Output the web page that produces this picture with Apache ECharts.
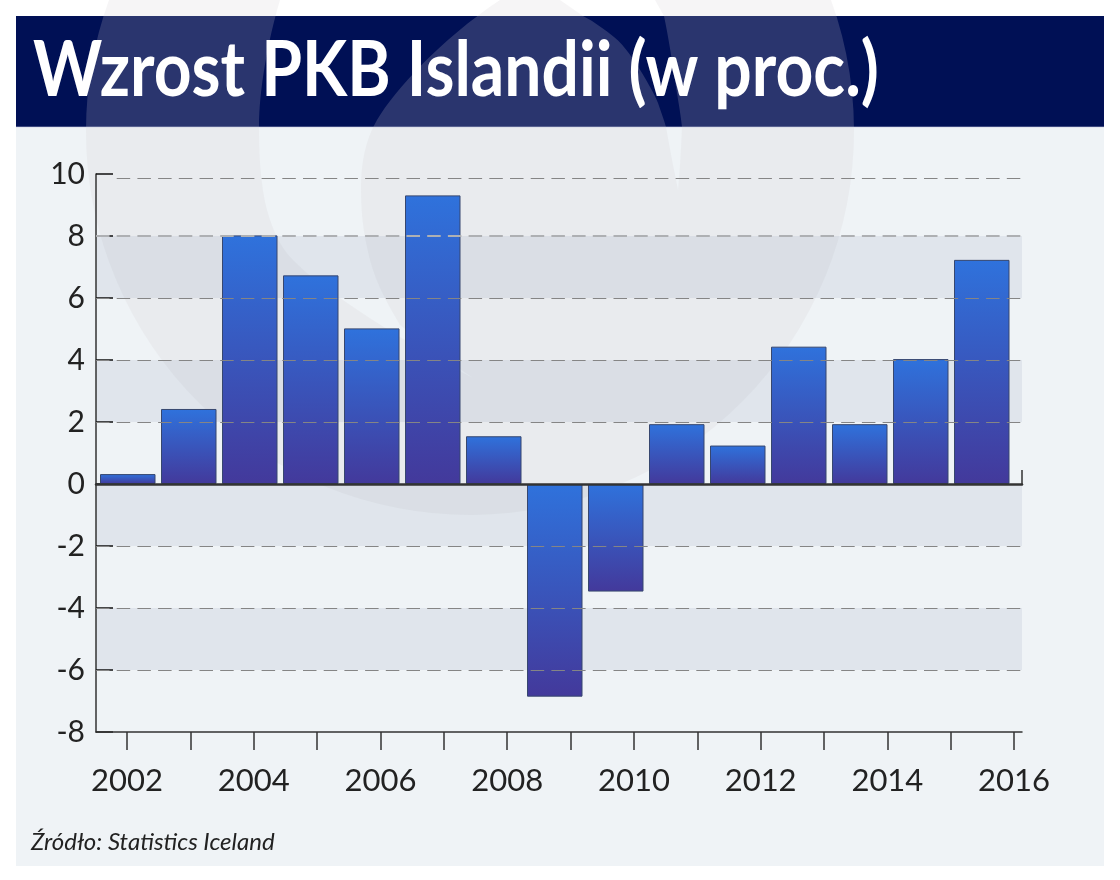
<!DOCTYPE html>
<html><head><meta charset="utf-8">
<style>html,body{margin:0;padding:0;background:#fff}#c{width:1120px;height:880px}</style>
<script src="https://cdn.jsdelivr.net/npm/echarts@6/dist/echarts.min.js"></script>
</head><body><div id="c"></div>
<script>
const years = ['2002','2003','2004','2005','2006','2007','2008','2009','2010','2011','2012','2013','2014','2015','2016'];
const growth = [0.32,2.42,8.02,6.73,5.02,9.31,1.54,-6.86,-3.47,1.93,1.24,4.43,1.93,4.03,7.23];
const tickYears = [2002,2003,2004,2005,2006,2007,2008,2009,2010,2011,2012,2013,2014,2015,2016];
const labelYears = [2002,2004,2006,2008,2010,2012,2014,2016];
const gridValues = [8,6,4,2,-2,-4,-6];
const topGridValue = 9.87;
const titleText = 'Wzrost PKB Islandii (w proc.)';
const sourceText = 'Źródło: Statistics Iceland';

const FONT = 'Lato';
const xMin = 2001.51, xMax = 2016.125;
const dash = {color:'#858585', width:1, type:[13.5,7.2], opacity:1};
const gridData = gridValues.map(v => [
  {coord:[xMin, v], lineStyle: v===8 ? {color:'#aeb0b3', width:2, type:[13.5,7.2], opacity:1} : dash},
  {coord:[xMax, v]}
]);
gridData.push([{coord:[2001.837, topGridValue], lineStyle:dash},{coord:[xMax, topGridValue]}]);

const watermark = 'M655,0 L831,0 A384,384 0 1 1 109,0 L280,0 ' +
  'C268,40 259,90 259,127 C259,165 262,190 267,210 C274,235 283,250 293,260 ' +
  'C310,277 325,288 340,298 C360,312 380,325 400,337 C425,352 450,366 473,378 ' +
  'C450,362 425,345 400,325 C385,300 372,275 367,247 C362,225 361,205 361,187 ' +
  'C361,165 365,140 377,120 C395,90 440,40 500,0 L560,0 ' +
  'L583,16 C595,22 605,30 614,37 C625,46 634,60 642,73 C649,85 654,93 658,103 ' +
  'C661,112 664,120 666,127 C670,150 674,170 678,190 C680,170 681,150 682,127 ' +
  'C680,110 678,100 676,87 C672,60 668,35 664,16 Z';
echarts.graphic.registerShape('wmark', echarts.graphic.extendPath(watermark, {}));

const chart = echarts.init(document.getElementById('c'), null, {renderer:'canvas', width:1120, height:880});
chart.setOption({
  animation:false,
  backgroundColor:'#ffffff',
  title:[
    {text:sourceText, left:26, top:825, z:20, textStyle:{fontFamily:FONT, fontSize:24, fontStyle:'italic', fontWeight:'normal', color:'#222222'}}
  ],
  graphic:[
    {type:'rect', z:-30, silent:true, shape:{x:16,y:127,width:1088,height:739}, style:{fill:'#eff3f6'}},
    {type:'rect', z:-30, silent:true, shape:{x:16,y:16,width:1088,height:111}, style:{fill:'#001055'}},
    {type:'wmark', z:-20, silent:true, style:{fill:'rgba(210,206,211,0.2)'}},
    {type:'rect', z:-10, silent:true, shape:{x:16,y:126.5,width:1088,height:1}, style:{fill:'rgba(200,205,225,0.6)'}},
    {type:'text', z:20, silent:true, x:33, y:33, scaleX:0.868, style:{text:titleText, fontFamily:FONT, fontSize:76, fontWeight:'bold', fill:'#ffffff'}}
  ],
  grid:[
    {left:96, top:174, width:926, height:558, outerBoundsMode:'none'},
    {left:97.25, top:174, width:915, height:558, outerBoundsMode:'none'}
  ],
  xAxis:[
    {gridIndex:0, type:'value', position:'bottom', min:xMin, max:xMax, z:6,
     splitLine:{show:false},
     axisLine:{show:true, onZero:false, lineStyle:{color:'#333333', width:1.5}},
     axisTick:{show:true, length:18, customValues:tickYears, lineStyle:{color:'#333333', width:1.5}},
     axisLabel:{show:true, margin:33, customValues:labelYears, formatter:v=>String(v), fontFamily:FONT, fontSize:31, color:'#222222'}},
    {gridIndex:0, type:'value', position:'bottom', min:xMin, max:xMax, z:6,
     splitLine:{show:false},
     axisLine:{show:true, onZero:true, onZeroAxisIndex:0, lineStyle:{color:'#333333', width:2.5}},
     axisTick:{show:true, inside:true, length:14, customValues:[xMax], lineStyle:{color:'#333333', width:1.5}},
     axisLabel:{show:false}},
    {gridIndex:1, type:'category', data:years, show:false}
  ],
  yAxis:[
    {gridIndex:0, type:'value', min:-8, max:10, interval:2, z:1,
     splitLine:{show:false},
     splitArea:{show:true, areaStyle:{color:['rgba(0,0,0,0)','rgba(120,140,170,0.13)']}},
     axisLine:{show:true, onZero:false, lineStyle:{color:'#333333', width:1.5}},
     axisTick:{show:true, inside:true, length:17, lineStyle:{color:'#111111', width:1.5}},
     axisLabel:{margin:11, padding:[2,0,0,0], fontFamily:FONT, fontSize:30, color:'#222222'}},
    {gridIndex:1, type:'value', min:-8, max:10, interval:2, show:false, splitLine:{show:false}}
  ],
  series:[
    {type:'line', xAxisIndex:0, yAxisIndex:0, data:[], z:2, silent:true, showSymbol:false,
     markLine:{silent:true, symbol:'none', label:{show:false}, animation:false, data:gridData}},
    {type:'bar', xAxisIndex:2, yAxisIndex:1, z:3, data:growth, barWidth:55.5, silent:true,
     itemStyle:{borderColor:'#37476f', borderWidth:1,
       color:new echarts.graphic.LinearGradient(0,0,0,1,[{offset:0,color:'#2f72dc'},{offset:1,color:'#43399b'}])}}
  ]
});
</script></body></html>
